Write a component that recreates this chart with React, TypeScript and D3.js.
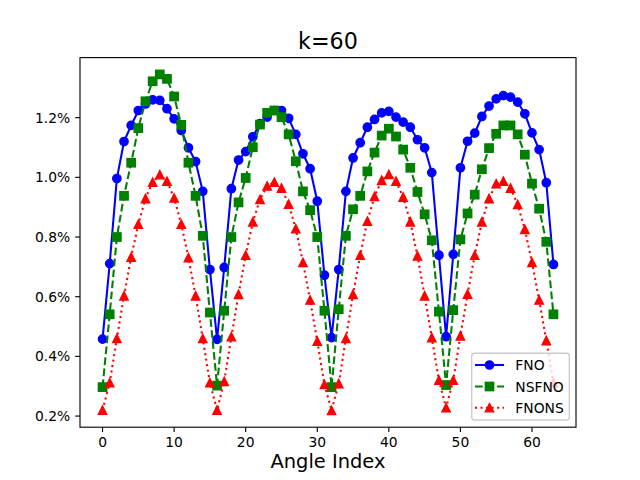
import { useEffect } from 'react'
import * as d3 from 'd3'

// values in percent, one per angle index 0..63
const fno = [
  0.458, 0.711, 0.996, 1.120, 1.174, 1.224, 1.246, 1.260, 1.258, 1.230, 1.196, 1.157, 1.099, 1.053, 0.953, 0.691,
  0.457, 0.698, 0.962, 1.058, 1.086, 1.136, 1.180, 1.202, 1.224, 1.224, 1.198, 1.144, 1.079, 1.029, 0.920, 0.672,
  0.463, 0.691, 0.953, 1.065, 1.116, 1.168, 1.194, 1.216, 1.221, 1.202, 1.185, 1.168, 1.126, 1.099, 1.016, 0.739,
  0.466, 0.742, 1.032, 1.121, 1.148, 1.204, 1.239, 1.263, 1.274, 1.269, 1.252, 1.213, 1.149, 1.093, 0.982, 0.708
]
const nsfno = [
  0.297, 0.541, 0.800, 0.938, 1.049, 1.165, 1.255, 1.322, 1.345, 1.330, 1.271, 1.176, 1.049, 0.938, 0.804, 0.547,
  0.302, 0.553, 0.800, 0.916, 0.998, 1.101, 1.177, 1.216, 1.224, 1.202, 1.144, 1.054, 0.953, 0.890, 0.800, 0.553,
  0.297, 0.558, 0.804, 0.893, 0.938, 1.020, 1.083, 1.140, 1.163, 1.137, 1.093, 1.032, 0.951, 0.876, 0.789, 0.550,
  0.304, 0.555, 0.792, 0.879, 0.942, 1.027, 1.098, 1.146, 1.174, 1.174, 1.144, 1.076, 0.979, 0.895, 0.784, 0.541
]
const fnons = [
  0.220, 0.312, 0.460, 0.603, 0.733, 0.843, 0.929, 0.984, 1.009, 0.987, 0.931, 0.843, 0.731, 0.603, 0.460, 0.312,
  0.220, 0.316, 0.466, 0.608, 0.739, 0.851, 0.926, 0.971, 0.984, 0.964, 0.910, 0.828, 0.715, 0.589, 0.451, 0.306,
  0.219, 0.309, 0.460, 0.608, 0.739, 0.853, 0.936, 0.990, 1.010, 0.987, 0.934, 0.851, 0.737, 0.603, 0.463, 0.320,
  0.228, 0.320, 0.469, 0.609, 0.739, 0.851, 0.929, 0.979, 0.987, 0.964, 0.909, 0.826, 0.715, 0.589, 0.453, 0.312
]
const xTicks = [0, 10, 20, 30, 40, 50, 60]
const yTicks = [0.2, 0.4, 0.6, 0.8, 1.0, 1.2]

const W = 640, H = 480
const m = { left: 80, right: 576, top: 57.6, bottom: 427.2 }
const FONT = 'DejaVu Sans, sans-serif'
const pt = 100 / 72

type Marker = 'circle' | 'square' | 'triangle'
const series: { name: string; values: number[]; color: string; dash: string; marker: Marker }[] = [
  { name: 'FNO', values: fno, color: '#0000ff', dash: 'none', marker: 'circle' },
  { name: 'NSFNO', values: nsfno, color: '#008000', dash: `${3.7 * 1.5 * pt} ${1.6 * 1.5 * pt}`, marker: 'square' },
  { name: 'FNONS', values: fnons, color: '#ff0000', dash: `${1 * 1.5 * pt} ${1.65 * 1.5 * pt}`, marker: 'triangle' }
]

function pad(ext: [number, number]): [number, number] {
  const s = ext[1] - ext[0]
  return [ext[0] - s * 0.05, ext[1] + s * 0.05]
}

function MarkerShape({ kind, x, y, color }: { kind: Marker; x: number; y: number; color: string }) {
  const r = 3 * pt
  if (kind === 'circle') return <circle cx={x} cy={y} r={r} fill={color} stroke={color} strokeWidth={pt} />
  if (kind === 'square') return <rect x={x - r} y={y - r} width={2 * r} height={2 * r} fill={color} stroke={color} strokeWidth={pt} />
  return (
    <path d={`M${x},${y - r}L${x - r},${y + r}L${x + r},${y + r}Z`} fill={color} stroke={color} strokeWidth={pt} strokeLinejoin="miter" />
  )
}

export default function App() {
  useEffect(() => {
    document.body.style.margin = '0'
  }, [])

  const n = fno.length
  const x = d3.scaleLinear().domain(pad([0, n - 1])).range([m.left, m.right])
  const all = [...fno, ...nsfno, ...fnons]
  const y = d3.scaleLinear().domain(pad(d3.extent(all) as [number, number])).range([m.bottom, m.top])

  const line = d3.line<number>().x((_, i) => x(i)).y(d => y(d))
  const tick = 3.5 * pt
  const fs = 10 * pt

  // legend geometry
  const lg = { x: 471.7, y: 353.3, w: 97.6, h: 66.7 }
  const rowY = [365, 386.5, 407.7]

  return (
    <svg width={W} height={H} style={{ display: 'block', fontFamily: FONT }}>
      <rect width={W} height={H} fill="#fff" />
      <defs>
        <clipPath id="plot">
          <rect x={m.left} y={m.top} width={m.right - m.left} height={m.bottom - m.top} />
        </clipPath>
      </defs>

      <g clipPath="url(#plot)">
        {series.map(s => (
          <g key={s.name}>
            <path d={line(s.values) ?? ''} fill="none" stroke={s.color} strokeWidth={1.5 * pt} strokeDasharray={s.dash} />
            {s.values.map((v, i) => <MarkerShape key={i} kind={s.marker} x={x(i)} y={y(v)} color={s.color} />)}
          </g>
        ))}
      </g>

      <rect x={m.left} y={m.top} width={m.right - m.left} height={m.bottom - m.top} fill="none" stroke="#000" strokeWidth={0.8 * pt} />

      {xTicks.map(t => (
        <g key={t} transform={`translate(${x(t)},${m.bottom})`}>
          <line y2={tick} stroke="#000" strokeWidth={0.8 * pt} />
          <text y={tick + 3.5 * pt + fs * 0.76} textAnchor="middle" fontSize={fs} fill="#000">{t}</text>
        </g>
      ))}
      {yTicks.map(t => (
        <g key={t} transform={`translate(${m.left},${y(t)})`}>
          <line x2={-tick} stroke="#000" strokeWidth={0.8 * pt} />
          <text x={-tick - 3.5 * pt} dy="0.36em" textAnchor="end" fontSize={fs} fill="#000">{d3.format('.1f')(t)}%</text>
        </g>
      ))}

      <text x={(m.left + m.right) / 2} y={49.3} textAnchor="middle" fontSize={16 * pt} fill="#000">k=60</text>
      <text x={(m.left + m.right) / 2} y={468.3} textAnchor="middle" fontSize={14 * pt} fill="#000">Angle Index</text>

      <rect x={lg.x} y={lg.y} width={lg.w} height={lg.h} rx={2.8} fill="#fff" fillOpacity={0.8} stroke="#cccccc" strokeWidth={pt} />
      {series.map((s, i) => (
        <g key={s.name}>
          <line x1={475} x2={504} y1={rowY[i]} y2={rowY[i]} stroke={s.color} strokeWidth={1.5 * pt} strokeDasharray={s.dash} />
          <MarkerShape kind={s.marker} x={489.5} y={rowY[i]} color={s.color} />
          <text x={515.3} y={rowY[i]} dy="0.36em" fontSize={fs} fill="#000">{s.name}</text>
        </g>
      ))}
    </svg>
  )
}
